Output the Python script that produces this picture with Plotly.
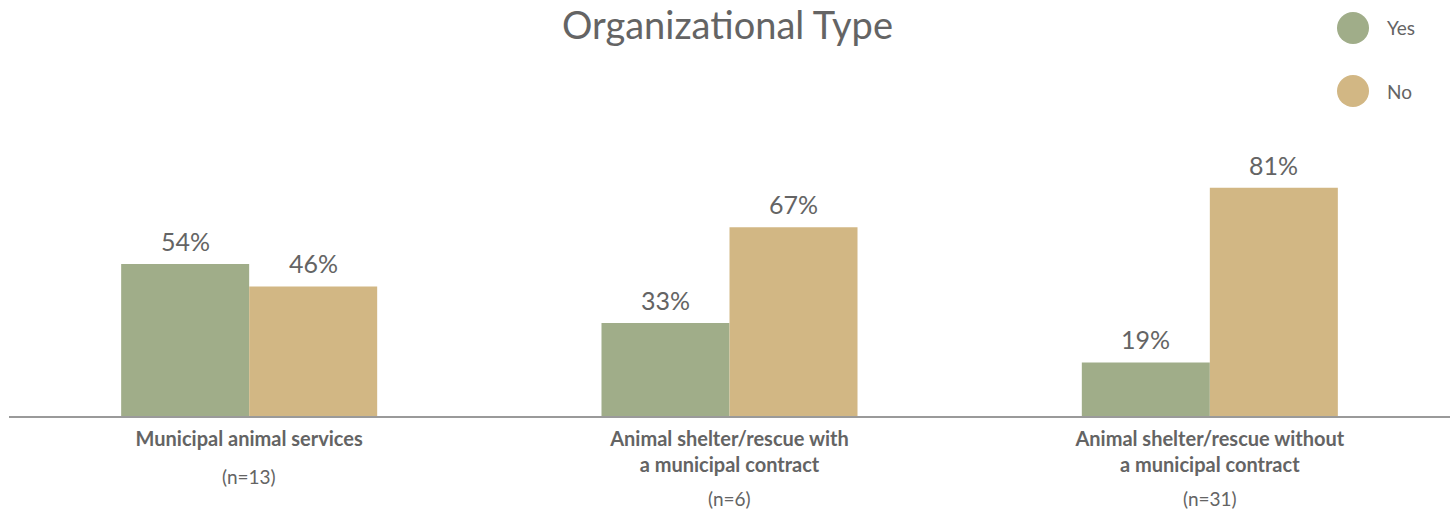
import plotly.graph_objects as go

# Survey responses by organizational type
categories = [
    "Municipal animal services",
    "Animal shelter/rescue with<br>a municipal contract",
    "Animal shelter/rescue without<br>a municipal contract",
]
sample_sizes = ["(n=13)", "(n=6)", "(n=31)"]
yes_pct = [54, 33, 19]
no_pct = [46, 67, 81]

series = [("Yes", yes_pct, "#A0AD89"), ("No", no_pct, "#D2B784")]

TEXT = "#646464"
FONT = "Lato"

W, H = 1455, 517
ML, MR, MT, MB = 9, 5, 100, 101
BARGAP = 0.467

fig = go.Figure()
for name, vals, color in series:
    fig.add_trace(go.Bar(
        x=categories, y=vals, name=name, marker_color=color,
        marker_line_width=0, showlegend=False, hoverinfo="skip",
    ))

# value labels above each bar
plot_w = W - ML - MR
cat_px = plot_w / len(categories)
bar_px = cat_px * (1 - BARGAP) / len(series)
annotations = []
for j, (name, vals, color) in enumerate(series):
    for cat, v in zip(categories, vals):
        annotations.append(dict(
            x=cat, y=v, xref="x", yref="y", text=f"{v}%",
            showarrow=False, yanchor="bottom",
            xshift=(j - (len(series) - 1) / 2) * bar_px, yshift=6,
            font=dict(family=FONT, size=25, color=TEXT),
        ))

# sample size below each category label
for cat, n in zip(categories, sample_sizes):
    extra_lines = cat.count("<br>")
    annotations.append(dict(
        x=cat, y=0, xref="x", yref="y", text=n, showarrow=False,
        yanchor="middle", yshift=-60 - 22 * extra_lines,
        font=dict(family=FONT, size=19, color=TEXT),
    ))

# legend drawn as large circles with labels
shapes = []
for k, (name, vals, color) in enumerate(series):
    cy = (H - MB - (28 + 63 * k)) / (H - MT - MB)
    shapes.append(dict(
        type="circle", xref="paper", yref="paper",
        xsizemode="pixel", ysizemode="pixel",
        xanchor=(1353 - ML) / plot_w, yanchor=cy,
        x0=-16, x1=16, y0=-16, y1=16,
        fillcolor=color, line_width=0,
    ))
    annotations.append(dict(
        x=(1385 - ML) / plot_w, y=cy,
        xref="paper", yref="paper", text=name, showarrow=False,
        xanchor="left", yanchor="middle",
        font=dict(family=FONT, size=19, color=TEXT),
    ))

fig.update_layout(
    width=W, height=H,
    margin=dict(l=ML, r=MR, t=MT, b=MB),
    paper_bgcolor="white", plot_bgcolor="white",
    barmode="group", bargap=BARGAP, bargroupgap=0,
    title=dict(
        text="Organizational Type", x=0.5, xanchor="center",
        y=1 - 26 / H, yanchor="middle",
        font=dict(family=FONT, size=38, color=TEXT),
    ),
    xaxis=dict(
        tickmode="array", tickvals=categories,
        ticktext=[f"<b>{c.replace('<br>', '</b><br><b>')}</b>" for c in categories],
        tickfont=dict(family=FONT, size=20, color=TEXT),
        ticklabelstandoff=4,
        showline=True, linecolor="#9A9A9A", linewidth=2,
        ticks="", showgrid=False, zeroline=False,
    ),
    yaxis=dict(
        range=[0, 112.2], visible=False, showgrid=False, zeroline=False,
    ),
    annotations=annotations, shapes=shapes,
    showlegend=False,
)

fig.write_html("out.html")
